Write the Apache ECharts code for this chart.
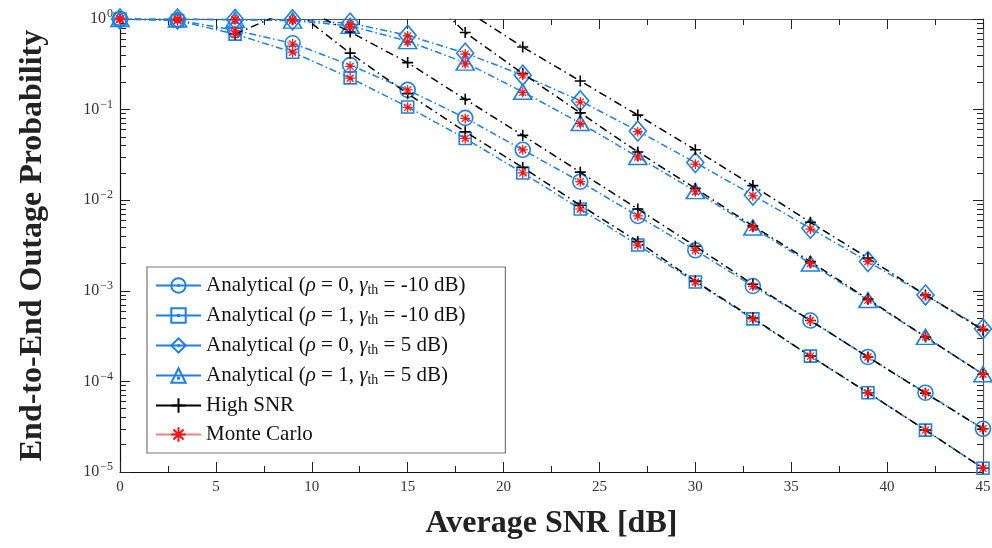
<!DOCTYPE html>
<html>
<head>
<meta charset="utf-8">
<script src="https://cdn.jsdelivr.net/npm/echarts@6/dist/echarts.min.js"></script>
<style>
html,body{margin:0;padding:0;background:#fff;}
#chart{width:992px;height:548px;}
</style>
</head>
<body>
<div id="chart"></div>
<script>
// ---------- data ----------
const snr = [0, 3, 6, 9, 12, 15, 18, 21, 24, 27, 30, 33, 36, 39, 42, 45];

// Analytical
const anaA = [1, 0.97, 0.75, 0.54, 0.31, 0.165, 0.081, 0.036, 0.016, 0.0067, 0.0028, 0.00113, 0.00047, 0.000186, 0.000075, 0.000030]; // rho=0, -10 dB
const anaB = [1, 0.96, 0.68, 0.43, 0.224, 0.107, 0.048, 0.020, 0.0080, 0.0032, 0.00125, 0.00049, 0.00019, 0.000075, 0.000029, 0.000011]; // rho=1, -10 dB
const anaC = [1, 1.0, 0.99, 0.98, 0.90, 0.66, 0.42, 0.24, 0.125, 0.058, 0.026, 0.0114, 0.0049, 0.0021, 0.00090, 0.00038]; // rho=0, 5 dB
const anaD = [1, 0.99, 0.98, 0.96, 0.84, 0.57, 0.33, 0.157, 0.071, 0.030, 0.0126, 0.0050, 0.0020, 0.00079, 0.00031, 0.00012]; // rho=1, 5 dB

// High SNR approximations
const hsA = [null, null, null, 1.5, 0.72, 0.33, 0.13, 0.052, 0.0204, 0.0080, 0.0031, 0.00118, 0.00047, 0.000186, 0.000074, 0.000030];
const hsB = [null, null, 0.68, 1.3, 0.42, 0.15, 0.057, 0.023, 0.0088, 0.0035, 0.00128, 0.00050, 0.00019, 0.000075, 0.000029, 0.000011];
const hsC = [null, null, null, null, null, null, 1.26, 0.49, 0.207, 0.087, 0.036, 0.0145, 0.0057, 0.0023, 0.00090, 0.00037];
const hsD = [null, null, null, null, null, 3.0, 0.71, 0.25, 0.092, 0.034, 0.0135, 0.0052, 0.0021, 0.00081, 0.00031, 0.00012];

// Monte Carlo
const mcA = [1, 0.97, 0.74, 0.53, 0.30, 0.165, 0.080, 0.036, 0.016, 0.0067, 0.0028, 0.00112, 0.00047, 0.000186, 0.000075, 0.000030];
const mcB = [1, 0.96, 0.68, 0.43, 0.222, 0.106, 0.048, 0.020, 0.0080, 0.0032, 0.00125, 0.00049, 0.00019, 0.000075, 0.000029, 0.000011];
const mcC = [1, 1.0, 0.99, 0.98, 0.87, 0.65, 0.41, 0.24, 0.121, 0.057, 0.025, 0.0112, 0.0048, 0.0021, 0.00088, 0.00038];
const mcD = [1, 0.99, 0.98, 0.96, 0.82, 0.56, 0.32, 0.155, 0.070, 0.030, 0.0124, 0.0050, 0.0020, 0.00079, 0.00031, 0.00012];

const xTicks = [0, 5, 10, 15, 20, 25, 30, 35, 40, 45];
const yDecades = [1e-5, 1e-4, 1e-3, 1e-2, 1e-1, 1];
const yMinorMult = [2, 3, 4, 5, 6, 7, 8, 9];

// ---------- styles ----------
const FONT = "'Liberation Serif', 'DejaVu Serif', serif";
const BLUE = '#1e80e0';
const RED = '#ff1010';

const yMinor = [];
yDecades.slice(0, -1).forEach(d => yMinorMult.forEach(m => yMinor.push(d * m)));

const pair = arr => snr.map((x, i) => [x, arr[i]]);

const symCircle = 'path://M10,1 A9,9 0 1,1 9.99,1 Z M10,9.3 A0.7,0.7 0 1,1 9.99,9.3 Z';
const symSquare = 'path://M0,0 L20,0 L20,20 L0,20 Z M9.3,9.3 L10.7,9.3 L10.7,10.7 L9.3,10.7 Z';
const symDiamond = 'path://M10,0 L20,12 L10,24 L0,12 Z M9.4,11.4 L10.6,11.4 L10.6,12.6 L9.4,12.6 Z';
const symTriangle = 'path://M10,0 L20,16 L0,16 Z M9.4,10.4 L10.6,10.4 L10.6,11.6 L9.4,11.6 Z';
const symPlus = 'path://M0,5 L10,5 M5,0 L5,10';
const symStar = 'path://M0,5 L10,5 M5,0 L5,10 M1.5,1.5 L8.5,8.5 M8.5,1.5 L1.5,8.5';

function anaSeries(name, arr, symbol, size) {
  return {
    name: name, type: 'line', data: pair(arr),
    symbol: symbol, symbolSize: size,
    itemStyle: { color: 'rgba(255,255,255,0)', borderColor: BLUE, borderWidth: 1.6 },
    lineStyle: { color: BLUE, width: 1.5, type: [7, 3, 1.5, 3] },
    emphasis: { disabled: true }, animation: false, z: 2
  };
}
function hsSeries(arr) {
  return {
    name: 'High SNR', type: 'line', data: pair(arr),
    symbol: symPlus, symbolSize: 11,
    itemStyle: { color: 'rgba(0,0,0,0)', borderColor: '#000', borderWidth: 1.6 },
    lineStyle: { color: '#000', width: 1.5, type: [8, 4, 1.5, 4] },
    emphasis: { disabled: true }, animation: false, z: 3
  };
}
function mcSeries(arr) {
  return {
    name: 'Monte Carlo', type: 'line', data: pair(arr),
    symbol: symStar, symbolSize: 10,
    itemStyle: { color: 'rgba(0,0,0,0)', borderColor: RED, borderWidth: 1.2 },
    lineStyle: { width: 0, opacity: 0 },
    emphasis: { disabled: true }, animation: false, z: 4
  };
}

const legendLabels = {
  a: 'Analytical ({i|ρ} = 0, {i|γ}{sub|th} = -10 dB)',
  b: 'Analytical ({i|ρ} = 1, {i|γ}{sub|th} = -10 dB)',
  c: 'Analytical ({i|ρ} = 0, {i|γ}{sub|th} = 5 dB)',
  d: 'Analytical ({i|ρ} = 1, {i|γ}{sub|th} = 5 dB)',
  'High SNR': 'High SNR',
  'Monte Carlo': 'Monte Carlo'
};

const tickCommon = { inside: true, lineStyle: { color: '#222', width: 1 } };

const option = {
  backgroundColor: '#fff',
  animation: false,
  grid: { left: 120, right: 9, top: 19, bottom: 76, containLabel: false, outerBoundsMode: 'none' },
  legend: {
    left: 147, top: 267, orient: 'vertical',
    data: ['a', 'b', 'c', 'd', 'High SNR', 'Monte Carlo'],
    itemWidth: 45, itemHeight: 18, itemGap: 8,
    padding: [8, 40, 8, 8],
    backgroundColor: '#fff', borderColor: '#777', borderWidth: 1.2,
    selectedMode: false,
    lineStyle: { type: 'solid' },
    formatter: n => legendLabels[n],
    textStyle: {
      fontFamily: FONT, fontSize: 21, color: '#111', lineHeight: 20,
      rich: {
        i: { fontFamily: FONT, fontSize: 21, fontStyle: 'italic', color: '#111' },
        sub: { fontFamily: FONT, fontSize: 14, color: '#111', padding: [9, 0, 0, 0] }
      }
    }
  },
  xAxis: [
    {
      type: 'value', position: 'bottom', min: 0, max: 45, interval: 5,
      name: 'Average SNR [dB]', nameLocation: 'middle', nameGap: 36, nameMoveOverlap: false,
      nameTextStyle: { fontFamily: FONT, fontSize: 32, fontWeight: 'bold', color: '#222' },
      axisLine: { lineStyle: { color: '#111', width: 1.2 } },
      axisTick: Object.assign({ length: 10 }, tickCommon),
      minorTick: { show: true, splitNumber: 2, length: 6, lineStyle: { color: '#222' } },
      axisLabel: { fontFamily: FONT, fontSize: 15, color: '#333', margin: 8,
        customValues: xTicks },
      splitLine: { show: false }
    },
    {
      type: 'value', position: 'top', min: 0, max: 45, interval: 5,
      axisLine: { lineStyle: { color: '#555', width: 1.2 } },
      axisTick: Object.assign({ length: 10 }, tickCommon),
      minorTick: { show: true, splitNumber: 2, length: 6, lineStyle: { color: '#222' } },
      axisLabel: { show: false },
      splitLine: { show: false }
    }
  ],
  yAxis: [
    {
      type: 'log', position: 'left', min: 1e-5, max: 1, logBase: 10,
      name: 'End-to-End Outage Probability', nameLocation: 'middle', nameGap: 71, nameMoveOverlap: false,
      nameTextStyle: { fontFamily: FONT, fontSize: 32, fontWeight: 'bold', color: '#222' },
      axisLine: { lineStyle: { color: '#111', width: 1.2 } },
      axisTick: Object.assign({ length: 10, customValues: yDecades }, tickCommon),
      axisLabel: {
        margin: 7,
        customValues: yDecades,
        formatter: v => {
          const e = Math.round(Math.log10(v));
          return '{b|10}{s|' + (e === 0 ? '0' : '−' + (-e)) + '}';
        },
        rich: {
          b: { fontFamily: FONT, fontSize: 16, color: '#333' },
          s: { fontFamily: FONT, fontSize: 12, color: '#333', padding: [0, 0, 10, 1] }
        }
      },
      splitLine: { show: false }
    },
    {
      type: 'log', position: 'left', min: 1e-5, max: 1, logBase: 10,
      axisLine: { show: false },
      axisTick: Object.assign({ length: 6, customValues: yMinor }, tickCommon),
      axisLabel: { show: false },
      splitLine: { show: false }
    },
    {
      type: 'log', position: 'right', min: 1e-5, max: 1, logBase: 10,
      axisLine: { lineStyle: { color: '#555', width: 1.2 } },
      axisTick: Object.assign({ length: 10, customValues: yDecades }, tickCommon),
      axisLabel: { show: false },
      splitLine: { show: false }
    },
    {
      type: 'log', position: 'right', min: 1e-5, max: 1, logBase: 10,
      axisLine: { show: false },
      axisTick: Object.assign({ length: 6, customValues: yMinor }, tickCommon),
      axisLabel: { show: false },
      splitLine: { show: false }
    }
  ],
  series: [
    // legend-only entry for Monte Carlo (shows the red line in the legend)
    {
      name: 'Monte Carlo', type: 'line', data: [],
      symbol: symStar, symbolSize: 10,
      itemStyle: { color: 'rgba(0,0,0,0)', borderColor: RED, borderWidth: 1.2 },
      lineStyle: { color: 'rgba(255,40,40,0.6)', width: 1.5 }
    },
    anaSeries('a', anaA, symCircle, 15),
    anaSeries('b', anaB, symSquare, 12),
    anaSeries('c', anaC, symDiamond, [17, 20]),
    anaSeries('d', anaD, symTriangle, [18, 15]),
    hsSeries(hsA), hsSeries(hsB), hsSeries(hsC), hsSeries(hsD),
    mcSeries(mcA), mcSeries(mcB), mcSeries(mcC), mcSeries(mcD)
  ]
};

const chart = echarts.init(document.getElementById('chart'), null, { renderer: 'canvas' });
chart.setOption(option);
</script>
</body>
</html>
